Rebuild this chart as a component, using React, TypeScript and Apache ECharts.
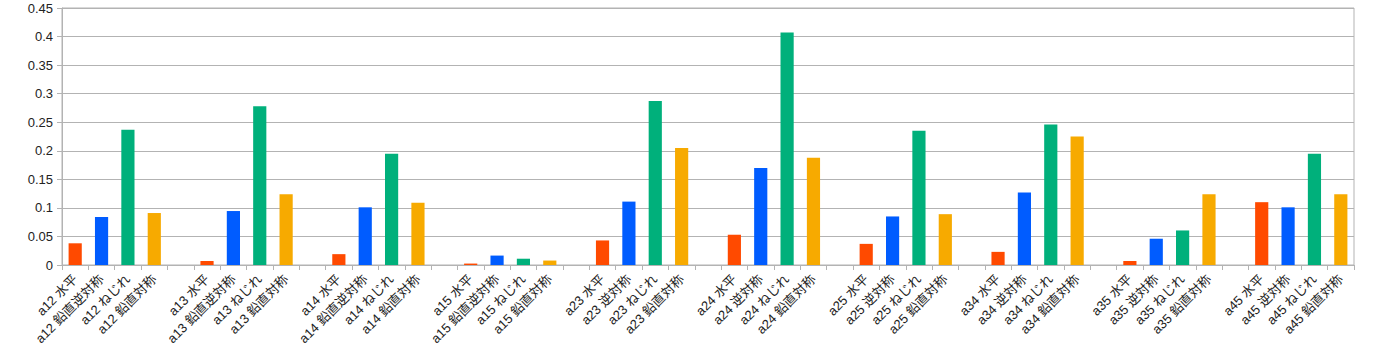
import React, { useEffect, useRef } from "react";
import * as echarts from "echarts";

const groups = ["a12", "a13", "a14", "a15", "a23", "a24", "a25", "a34", "a35", "a45"];
const antisymNames = ["鉛直逆対称", "鉛直逆対称", "鉛直逆対称", "鉛直逆対称", "逆対称", "逆対称", "逆対称", "逆対称", "逆対称", "逆対称"];
const horizontal = [0.038, 0.007, 0.019, 0.0025, 0.043, 0.053, 0.037, 0.023, 0.007, 0.11];
const antisym = [0.084, 0.0945, 0.101, 0.0165, 0.111, 0.17, 0.085, 0.127, 0.046, 0.101];
const torsion = [0.237, 0.278, 0.195, 0.011, 0.287, 0.407, 0.235, 0.246, 0.0605, 0.195];
const vertSym = [0.091, 0.124, 0.109, 0.0078, 0.205, 0.188, 0.089, 0.225, 0.124, 0.124];
const colors = ["#ff4a00", "#005cff", "#00b07b", "#f7aa00"];
const yTicks = { min: 0, max: 0.45, interval: 0.05 };

export default function App() {
  const ref = useRef<HTMLDivElement>(null);
  useEffect(() => {
    if (!ref.current) return;
    const chart = echarts.init(ref.current, null, { renderer: "svg" });
    const categories: string[] = [];
    const data: any[] = [];
    groups.forEach((g, i) => {
      if (i > 0) {
        categories.push("__gap" + i);
        data.push(null);
      }
      const labels = [`${g} 水平`, `${g} ${antisymNames[i]}`, `${g} ねじれ`, `${g} 鉛直対称`];
      const vals = [horizontal[i], antisym[i], torsion[i], vertSym[i]];
      labels.forEach((l, k) => {
        categories.push(l);
        data.push({ value: vals[k], itemStyle: { color: colors[k] } });
      });
    });
    const font = '"Liberation Sans", "Noto Sans CJK JP", sans-serif';
    chart.setOption({
      animation: false,
      grid: {
        left: 62,
        right: 28,
        top: 8,
        bottom: 97,
        show: true,
        borderColor: "#b3b3b3",
        borderWidth: 1,
      },
      xAxis: {
        type: "category",
        data: categories,
        boundaryGap: true,
        axisLine: { show: true, lineStyle: { color: "#b3b3b3" } },
        axisTick: { show: true, interval: 0, length: 5, lineStyle: { color: "#b3b3b3" } },
        axisLabel: {
          interval: 0,
          rotate: 45,
          margin: 12,
          fontSize: 13,
          color: "#222",
          fontFamily: font,
          formatter: (v: string) => (v.startsWith("__gap") ? "" : v),
        },
        splitLine: { show: false },
      },
      yAxis: {
        type: "value",
        min: yTicks.min,
        max: yTicks.max,
        interval: yTicks.interval,
        axisLine: { show: true, lineStyle: { color: "#b3b3b3" } },
        axisTick: { show: true, length: 5, lineStyle: { color: "#b3b3b3" } },
        axisLabel: { fontSize: 13, color: "#222", fontFamily: font, margin: 9 },
        splitLine: { show: true, lineStyle: { color: "#b3b3b3", width: 1 } },
      },
      series: [
        {
          type: "bar",
          data,
          barWidth: "50%",
        },
      ],
    });
    return () => chart.dispose();
  }, []);
  return (
    <div
      ref={ref}
      style={{ position: "fixed", left: 0, top: 0, width: 1382, height: 362, background: "#fff" }}
    />
  );
}
